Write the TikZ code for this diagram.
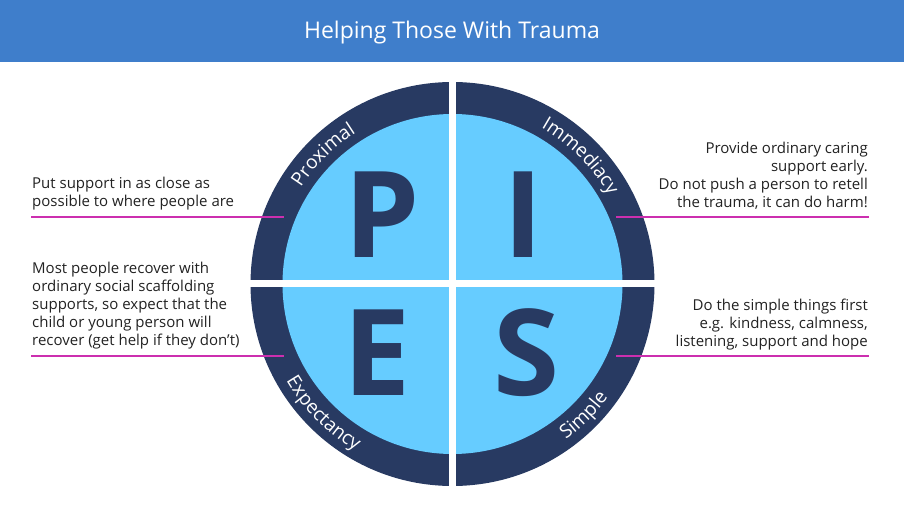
\documentclass[tikz,border=0pt]{standalone}
\usepackage{fontspec}
\setmainfont{Open Sans}
\usetikzlibrary{decorations.text}
\definecolor{navy}{HTML}{283A62}
\definecolor{lightb}{HTML}{66CCFF}
\definecolor{headb}{HTML}{3F7ECB}
\definecolor{mag}{HTML}{CC2FAF}
\definecolor{txt}{HTML}{222222}
\newcommand\ringfont{\fontsize{19}{19}\selectfont}
\begin{document}
\begin{tikzpicture}[x=1pt,y=1pt,
  desc/.style={font=\fontsize{15}{18}\selectfont, text=txt, inner sep=0pt},
  big/.style={font=\fontsize{120}{120}\selectfont\bfseries, text=navy, inner sep=0pt},
  link/.style={draw=mag, line width=2pt},
  gap/.style={draw=white, line width=7pt},
  ringtext/.style={decorate, decoration={text along path, text align=center, text color=white, text={|\ringfont|#1}}}]
\useasboundingbox (0,0) rectangle (904,509);
% header
\fill[headb] (0,447) rectangle (904,509);
\node[font=\fontsize{23}{26}\selectfont, text=white, anchor=base, inner sep=0pt] (title) at (452,470) {Helping Those With Trauma};
% circle
\coordinate (c) at (452.5,225);
\fill[navy] (c) circle (202);
\fill[lightb] (c) circle (170);
\draw[gap] ([yshift=-207pt]c) -- ([yshift=207pt]c);
\draw[gap] ([xshift=-207pt]c) -- ([xshift=207pt]c);
% big letters
\node[big, anchor=base] (P) at (382,251) {P};
\node[big, anchor=base] (I) at (523,251) {I};
\node[big, anchor=base] (E) at (377,114) {E};
\node[big, anchor=base] (S) at (526.5,114) {S};
% ring labels
\path[ringtext=Proximal] ([shift={(180:179.5)}]c) arc[start angle=180, end angle=90, radius=179.5];
\path[ringtext=Immediacy] ([shift={(90:179.5)}]c) arc[start angle=90, end angle=0, radius=179.5];
\path[ringtext=Expectancy] ([shift={(180:192.5)}]c) arc[start angle=180, end angle=270, radius=192.5];
\path[ringtext=Simple] ([shift={(270:192.5)}]c) arc[start angle=270, end angle=360, radius=192.5];
% descriptions
\node[desc, align=left, anchor=base west] (t1) at (32,302.3) {Put support in as close as\\possible to where people are};
\node[desc, align=left, anchor=base west] (t2) at (32,163.3) {Most people recover with\\ordinary social scaffolding\\supports, so expect that the\\child or young person will\\recover (get help if they don’t)};
\node[desc, align=right, anchor=base east] (t3) at (868,301.7) {Provide ordinary caring\\support early.\\Do not push a person to retell\\the trauma, it can do harm!};
\node[desc, align=right, anchor=base east] (t4) at (868,163) {Do the simple things first\\e.g. kindness, calmness,\\listening, support and hope};
% connectors
\coordinate (l1a) at (31,292.3);  \coordinate (l1b) at (284,292.3);
\coordinate (l2a) at (31,153.3);  \coordinate (l2b) at (284,153.3);
\coordinate (r1a) at (616,291.7); \coordinate (r1b) at (869,291.7);
\coordinate (r2a) at (616,153.3); \coordinate (r2b) at (869,153.3);
\draw[link] (l1a) -- (l1b);
\draw[link] (l2a) -- (l2b);
\draw[link] (r1a) -- (r1b);
\draw[link] (r2a) -- (r2b);
\end{tikzpicture}
\end{document}
